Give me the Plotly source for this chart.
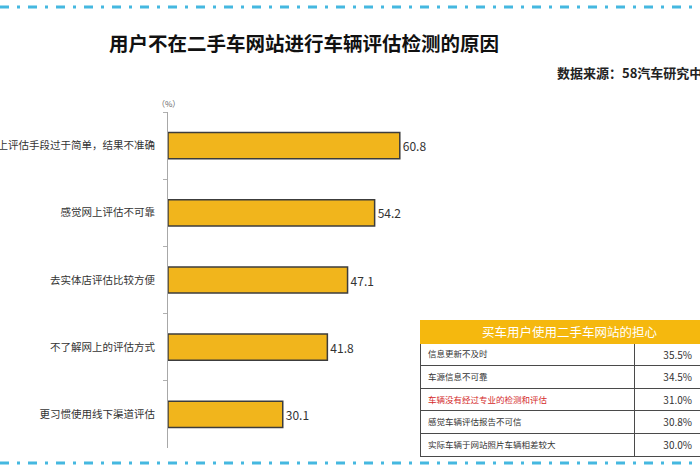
import plotly.graph_objects as go

# ---------------- data ----------------
reasons = [
    "网上评估手段过于简单，结果不准确",
    "感觉网上评估不可靠",
    "去实体店评估比较方便",
    "不了解网上的评估方式",
    "更习惯使用线下渠道评估",
]
reason_values = [60.8, 54.2, 47.1, 41.8, 30.1]

title_text = "用户不在二手车网站进行车辆评估检测的原因"
source_text = "数据来源：58汽车研究中心"
unit_text = "（%）"

table_title = "买车用户使用二手车网站的担心"
concerns = [
    "信息更新不及时",
    "车源信息不可靠",
    "车辆没有经过专业的检测和评估",
    "感觉车辆评估报告不可信",
    "实际车辆于网站照片车辆相差较大",
]
concern_values = ["35.5%", "34.5%", "31.0%", "30.8%", "30.0%"]
highlight_row = 2

W, H = 700, 470
FONT = "Noto Sans CJK SC"

def px_x(p):
    return p / W

def px_y(p):
    return 1 - p / H

fig = go.Figure()

fig.add_trace(go.Bar(
    y=reasons,
    x=reason_values,
    orientation="h",
    width=0.39,
    marker=dict(color="#F1B51C", line=dict(color="#3c3c3c", width=1.5)),
    text=[f"{v:.1f}" for v in reason_values],
    textposition="outside",
    textfont=dict(size=12, color="#333333", family=FONT),
    cliponaxis=False,
    hoverinfo="skip",
    xaxis="x", yaxis="y",
))

cell_colors = ["#d42a2a" if i == highlight_row else "#333333" for i in range(len(concerns))]

fig.add_trace(go.Table(
    domain=dict(x=[px_x(420), 1.0], y=[px_y(457), px_y(320)]),
    columnwidth=[214, 66],
    header=dict(
        values=["", ""],
        fill=dict(color="#F5B80E"),
        line=dict(color="#F5B80E", width=1),
        height=23,
    ),
    cells=dict(
        values=[concerns, concern_values],
        align=["left", "right"],
        fill=dict(color="white"),
        line=dict(color="#4a4a4a", width=1),
        font=dict(family=FONT, size=[8.5, 10], color=[cell_colors, "#333333"]),
        height=22.6,
    ),
))

fig.update_layout(
    width=W, height=H,
    margin=dict(l=0, r=0, t=0, b=0),
    paper_bgcolor="white",
    plot_bgcolor="white",
    showlegend=False,
    font=dict(family=FONT, color="#333333"),
    xaxis=dict(
        domain=[px_x(168), px_x(420)],
        range=[0, 66.1],
        visible=False,
        fixedrange=True,
    ),
    yaxis=dict(
        domain=[px_y(448), px_y(112)],
        autorange="reversed",
        showline=True, linecolor="#a8a8a8", linewidth=1,
        ticks="outside", tickson="boundaries", ticklen=4, tickcolor="#b0b0b0",
        showgrid=False, zeroline=False,
        tickfont=dict(size=10.5, color="#333333", family=FONT),
        ticklabelstandoff=10,
        automargin=False,
        fixedrange=True,
    ),
    annotations=[
        dict(text=f"<b>{title_text}</b>", x=px_x(304), y=px_y(42), xref="paper", yref="paper",
             xanchor="center", yanchor="middle", showarrow=False,
             font=dict(size=19.5, color="#111111", family=FONT)),
        dict(text=f"<b>{source_text}</b>", x=px_x(555), y=px_y(72), xref="paper", yref="paper",
             xanchor="left", yanchor="middle", showarrow=False,
             font=dict(size=13, color="#222222", family=FONT)),
        dict(text=unit_text, x=px_x(168), y=px_y(103), xref="paper", yref="paper",
             xanchor="center", yanchor="middle", showarrow=False,
             font=dict(size=8, color="#666666", family=FONT)),
        dict(text=table_title, x=px_x(570), y=px_y(331.5), xref="paper", yref="paper",
             xanchor="center", yanchor="middle", showarrow=False,
             font=dict(size=12.5, color="white", family=FONT)),
    ],
    shapes=[
        dict(type="line", xref="paper", yref="paper", x0=0, x1=1, y0=px_y(7), y1=px_y(7),
             line=dict(color="#45B8E0", width=3, dash="9px,8px,3px,8px")),
        dict(type="line", xref="paper", yref="paper", x0=0, x1=1, y0=px_y(463), y1=px_y(463),
             line=dict(color="#45B8E0", width=3, dash="9px,8px,3px,8px")),
    ],
)

fig.write_html(
    "out.html",
    config={"displayModeBar": False, "staticPlot": True},
    post_script="document.body.style.margin='0';document.body.style.overflow='hidden';",
)
